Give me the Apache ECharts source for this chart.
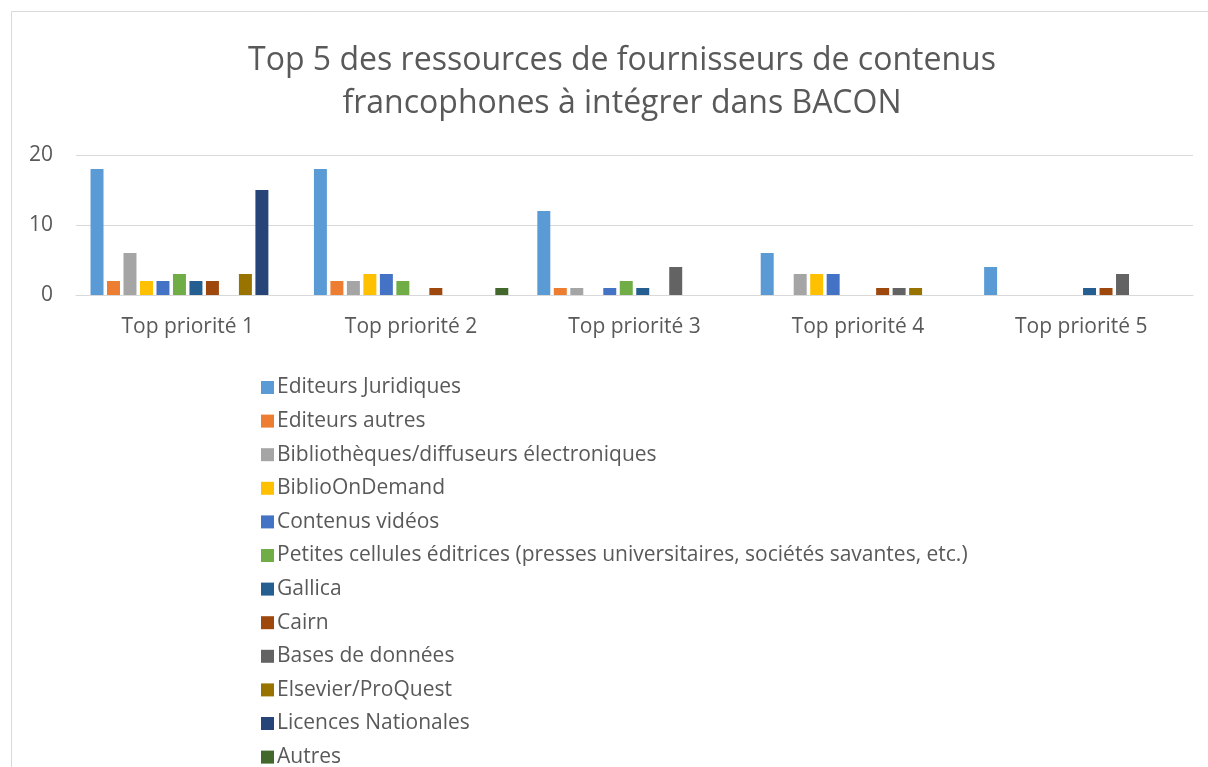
<!DOCTYPE html>
<html>
<head>
<meta charset="utf-8">
<script src="https://cdn.jsdelivr.net/npm/echarts@6/dist/echarts.min.js"></script>
<style>
  html, body { margin: 0; padding: 0; background: #fff; }
  #chart { width: 1208px; height: 767px; }
</style>
</head>
<body>
<div id="chart"></div>
<script>
var categories = ['Top priorité 1', 'Top priorité 2', 'Top priorité 3', 'Top priorité 4', 'Top priorité 5'];

var seriesNames = [
    'Editeurs Juridiques',
    'Editeurs autres',
    'Bibliothèques/diffuseurs électroniques',
    'BiblioOnDemand',
    'Contenus vidéos',
    'Petites cellules éditrices (presses universitaires, sociétés savantes, etc.)',
    'Gallica',
    'Cairn',
    'Bases de données',
    'Elsevier/ProQuest',
    'Licences Nationales',
    'Autres'
];

var editeursJuridiques = [18, 18, 12, 6, 4];
var editeursAutres = [2, 2, 1, 0, 0];
var bibliotheques = [6, 2, 1, 3, 0];
var biblioOnDemand = [2, 3, 0, 3, 0];
var contenusVideos = [2, 3, 1, 3, 0];
var petitesCellules = [3, 2, 2, 0, 0];
var gallica = [2, 0, 1, 0, 1];
var cairn = [2, 1, 0, 1, 1];
var basesDeDonnees = [0, 0, 4, 1, 3];
var elsevierProquest = [3, 0, 0, 1, 0];
var licencesNationales = [15, 0, 0, 0, 0];
var autres = [0, 1, 0, 0, 0];

var seriesValues = [editeursJuridiques, editeursAutres, bibliotheques, biblioOnDemand,
    contenusVideos, petitesCellules, gallica, cairn, basesDeDonnees, elsevierProquest,
    licencesNationales, autres];

var colors = ['#5B9BD5', '#ED7D31', '#A5A5A5', '#FFC000', '#4472C4', '#70AD47',
    '#255E91', '#9E480E', '#636363', '#997300', '#264478', '#43682B'];

var yTicks = [0, 10, 20];

var FONT = '"Open Sans", sans-serif';
var chart = echarts.init(document.getElementById('chart'));

var series = seriesNames.map(function (name, i) {
    return {
        name: name,
        type: 'bar',
        data: seriesValues[i],
        barGap: '27%',
        barCategoryGap: '13%',
        itemStyle: { color: colors[i] }
    };
});

chart.setOption({
    animation: false,
    color: colors,
    textStyle: { fontFamily: FONT },
    graphic: [{
        type: 'rect',
        shape: { x: 11.5, y: 11.5, width: 1400, height: 1000 },
        style: { fill: 'none', stroke: '#d9d9d9', lineWidth: 1 },
        silent: true
    }],
    title: {
        text: 'Top 5 des ressources de fournisseurs de contenus\nfrancophones à intégrer dans BACON',
        left: 617,
        top: 34,
        textAlign: 'center',
        textStyle: {
            fontFamily: FONT,
            fontSize: 32,
            fontWeight: 'normal',
            color: '#595959',
            lineHeight: 43
        }
    },
    grid: {
        left: 76,
        right: 15,
        top: 155,
        height: 140,
        containLabel: false
    },
    legend: {
        orient: 'vertical',
        left: 256,
        top: 372,
        height: 420,
        itemWidth: 13,
        itemHeight: 13,
        itemGap: 12.6,
        icon: 'rect',
        textStyle: {
            fontFamily: FONT,
            fontSize: 21,
            lineHeight: 21,
            color: '#595959',
            padding: [0, 0, 0, -2]
        },
        data: seriesNames
    },
    xAxis: {
        type: 'category',
        data: categories,
        axisLine: { lineStyle: { color: '#d9d9d9', width: 1 } },
        axisTick: { show: false },
        axisLabel: {
            fontFamily: FONT,
            fontSize: 21,
            color: '#595959',
            margin: 22
        }
    },
    yAxis: {
        type: 'value',
        min: yTicks[0],
        max: yTicks[yTicks.length - 1],
        interval: yTicks[1] - yTicks[0],
        axisLine: { show: false },
        axisTick: { show: false },
        splitLine: { lineStyle: { color: '#d9d9d9', width: 1 } },
        axisLabel: {
            fontFamily: FONT,
            fontSize: 21,
            color: '#595959',
            margin: 23
        }
    },
    series: series
});
</script>
</body>
</html>
